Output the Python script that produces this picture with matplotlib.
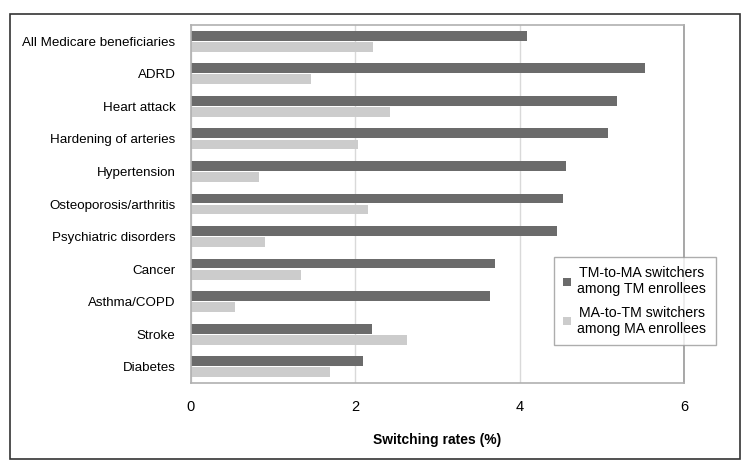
import matplotlib.pyplot as plt
from matplotlib.patches import Rectangle
import numpy as np

plt.rcParams['font.family'] = ['Liberation Sans', 'DejaVu Sans']

categories = ["All Medicare beneficiaries", "ADRD", "Heart attack", "Hardening of arteries",
              "Hypertension", "Osteoporosis/arthritis", "Psychiatric disorders", "Cancer",
              "Asthma/COPD", "Stroke", "Diabetes"]
tm_to_ma = [4.09, 5.53, 5.19, 5.08, 4.57, 4.53, 4.45, 3.70, 3.64, 2.20, 2.10]
ma_to_tm = [2.22, 1.46, 2.42, 2.04, 0.83, 2.16, 0.90, 1.34, 0.54, 2.63, 1.70]
labels = ["TM-to-MA switchers\namong TM enrollees", "MA-to-TM switchers\namong MA enrollees"]

fig = plt.figure(figsize=(7.47, 4.71), dpi=100)
ax = fig.add_axes([190.7 / 747, 1 - 383 / 471, (684 - 190.7) / 747, (383 - 25) / 471])

# ramka dookola calego rysunku
fig.patches.append(Rectangle((10 / 747, 1 - 459 / 471), 730 / 747, 445 / 471,
                             transform=fig.transFigure, fill=False,
                             edgecolor="#333333", linewidth=1.2))

y = np.arange(len(categories))
h = 0.3
ax.barh(y - h / 2 - 0.02, tm_to_ma, height=h, color="#6b6b6b", label=labels[0], zorder=2)
ax.barh(y + h / 2 + 0.02, ma_to_tm, height=h, color="#cccccc", label=labels[1], zorder=2)

ax.set_ylim(len(categories) - 0.5, -0.5)
ax.set_xlim(0, 6)
ax.set_xticks([0, 2, 4, 6])
ax.set_yticks(y)
ax.set_yticklabels(categories, fontsize=9.6)
ax.tick_params(axis="x", labelsize=10.5, length=0, pad=12)
ax.tick_params(axis="y", length=0, pad=11)
ax.grid(axis="x", color="#d9d9d9", linewidth=1, zorder=0)
for s in ax.spines.values():
    s.set_color("#b0b0b0")
    s.set_linewidth(1.2)
ax.spines["right"].set_color("#999999")
ax.set_xlabel("Switching rates (%)", fontsize=10, fontweight="bold", labelpad=14)

leg = ax.legend(loc="upper left", bbox_to_anchor=(554 / 747, 1 - 257 / 471),
                bbox_transform=fig.transFigure, fontsize=10.2, frameon=True, fancybox=False,
                borderaxespad=0, handlelength=0.55, handleheight=0.55, handletextpad=0.45,
                labelspacing=0.65, borderpad=0.65)
leg.get_frame().set_edgecolor("#999999")
leg.get_frame().set_linewidth(1)
for t in leg.get_texts():
    t.set_multialignment("center")

plt.savefig("out.png", dpi=100)
